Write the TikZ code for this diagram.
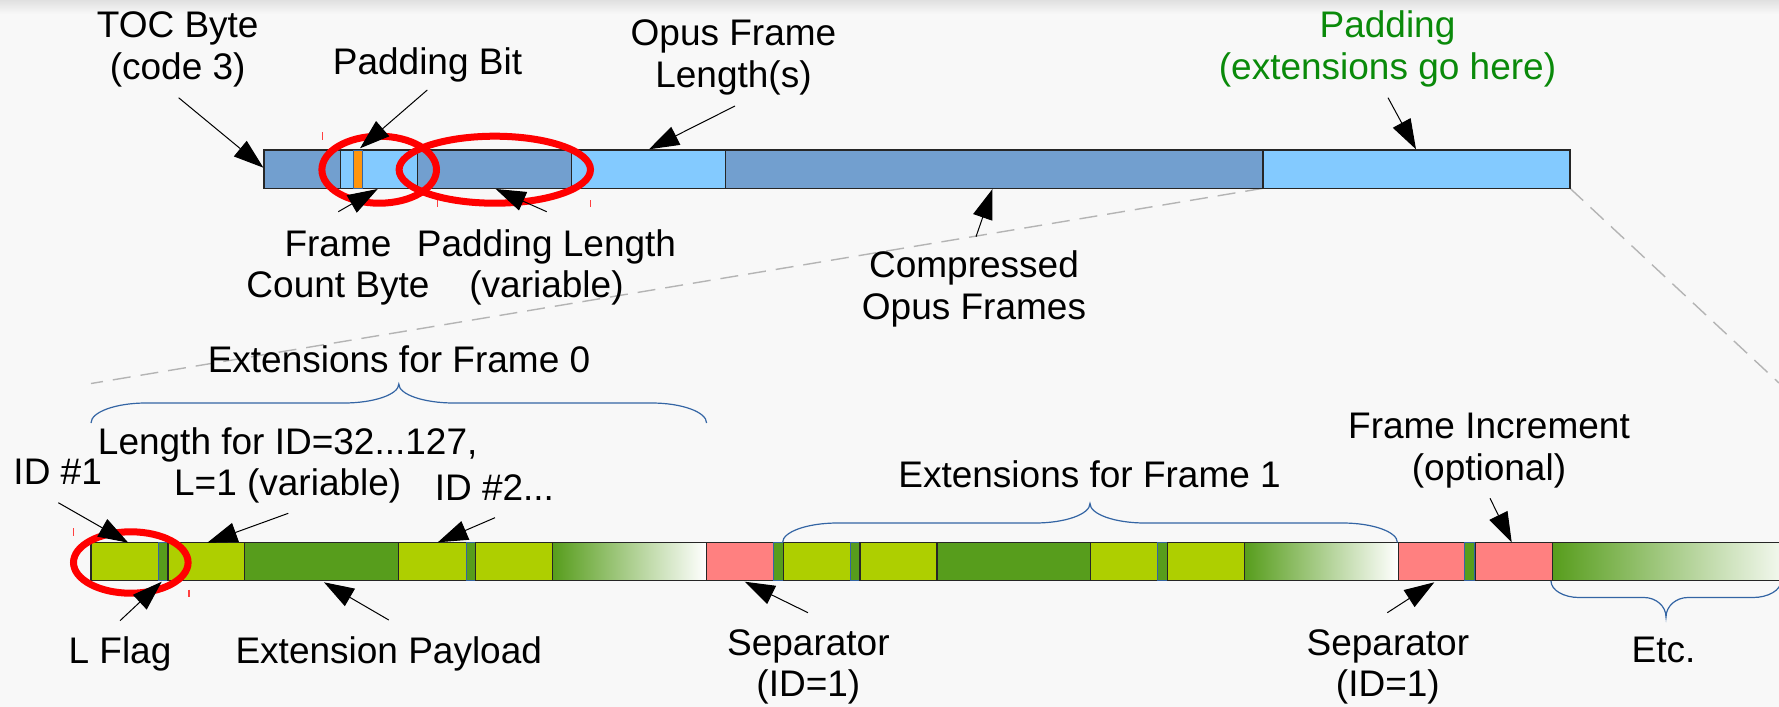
\documentclass[tikz,border=0pt]{standalone}
\usepackage{fontspec}
\setmainfont{Liberation Sans}
\usetikzlibrary{arrows.meta}
\definecolor{bgc}{HTML}{F8F8F8}
\definecolor{dblue}{HTML}{729FCF}
\definecolor{lblue}{HTML}{83CAFF}
\definecolor{orng}{HTML}{FF950E}
\definecolor{ygreen}{HTML}{AECF00}
\definecolor{dgreen}{HTML}{579D1C}
\definecolor{pinkc}{HTML}{FF8080}
\definecolor{braceblue}{HTML}{3465A4}
\definecolor{txtgreen}{HTML}{0A8A0A}
\definecolor{zoomgray}{HTML}{B4B4B4}
\newcommand\lblfont{\fontsize{18.5pt}{20.75pt}\selectfont}
\newcommand\bracecurve[7]{% x0 x1 ye yh yc cornerw cuspw
  (#1,#3) .. controls (#1,{#3+0.55*(#4-#3)}) and ({#1+0.45*#6},#4) .. ({#1+#6},#4)
  -- ({(#1+#2)/2-#7},#4) .. controls ({(#1+#2)/2-0.45*#7},#4) and ({(#1+#2)/2},{#5+0.55*(#4-#5)}) .. ({(#1+#2)/2},#5)
  .. controls ({(#1+#2)/2},{#5+0.55*(#4-#5)}) and ({(#1+#2)/2+0.45*#7},#4) .. ({(#1+#2)/2+#7},#4)
  -- ({#2-#6},#4) .. controls ({#2-0.45*#6},#4) and (#2,{#3+0.55*(#4-#3)}) .. (#2,#3)}
\begin{document}
\begin{tikzpicture}[x=0.5pt,y=-0.5pt,
  lbl/.style={font=\lblfont, align=center, inner sep=0pt, anchor=base, text=black},
  ptr/.style={-{Triangle[length=15pt,width=10pt]}, line width=0.5pt, draw=black},
  blk/.style={draw=black!85, line width=0.6pt},
  strip/.style={draw=braceblue, line width=0.5pt},
  brc/.style={draw=braceblue, line width=0.6pt},
  ring/.style={draw=red, line width=3.5pt},
  tickm/.style={draw=red!75, line width=0.6pt},
  zoomline/.style={draw=zoomgray, line width=0.7pt, dash pattern=on 9pt off 5pt}]
\clip (0,0) rectangle (1779,707);
\fill[bgc] (0,0) rectangle (1779,707);
\shade[top color=black!12, bottom color=bgc] (0,0) rectangle (1779,14);

% zoom lines
\coordinate (padBL) at (1263,188.3);
\coordinate (padBR) at (1570,188.3);
\coordinate (lowL) at (91,383.5);
\coordinate (lowR) at (1779,383);
\draw[zoomline] (padBL) -- (lowL);
\draw[zoomline] (padBR) -- (lowR);

% ---------- top bar ----------
\draw[blk, fill=dblue] (264,150) rectangle (340.7,188.3);
\draw[blk, fill=lblue] (340.7,150) rectangle (417.7,188.3);
\draw[strip, fill=orng] (353.3,150) rectangle (362.3,188.3);
\draw[blk, fill=dblue] (417.7,150) rectangle (571.7,188.3);
\draw[blk, fill=lblue] (571.7,150) rectangle (725.5,188.3);
\draw[blk, fill=dblue] (725.5,150) rectangle (1263,188.3);
\draw[blk, fill=lblue] (1263,150) rectangle (1570,188.3);

% ---------- lower bar ----------
\def\ya{542.5}\def\yb{580.7}
\draw[blk, fill=ygreen] (91,\ya) rectangle (167.9,\yb);
\draw[strip, fill=dgreen] (158.2,\ya) rectangle (167.9,\yb);
\draw[blk, fill=ygreen] (167.9,\ya) rectangle (244.8,\yb);
\draw[blk, fill=dgreen] (244.8,\ya) rectangle (398.6,\yb);
\draw[blk, fill=ygreen] (398.6,\ya) rectangle (475.5,\yb);
\draw[strip, fill=dgreen] (466,\ya) rectangle (475.5,\yb);
\draw[blk, fill=ygreen] (475.5,\ya) rectangle (552.4,\yb);
\shadedraw[blk, left color=dgreen, right color=white] (552.4,\ya) rectangle (706.2,\yb);
\draw[blk, fill=pinkc] (706.2,\ya) rectangle (783.1,\yb);
\draw[strip, fill=dgreen] (773.6,\ya) rectangle (783.1,\yb);
\draw[blk, fill=ygreen] (783.1,\ya) rectangle (860,\yb);
\draw[strip, fill=dgreen] (850.3,\ya) rectangle (860,\yb);
\draw[blk, fill=ygreen] (860,\ya) rectangle (936.9,\yb);
\draw[blk, fill=dgreen] (936.9,\ya) rectangle (1090.7,\yb);
\draw[blk, fill=ygreen] (1090.7,\ya) rectangle (1167.6,\yb);
\draw[strip, fill=dgreen] (1157.9,\ya) rectangle (1167.6,\yb);
\draw[blk, fill=ygreen] (1167.6,\ya) rectangle (1244.5,\yb);
\shadedraw[blk, left color=dgreen, right color=white] (1244.5,\ya) rectangle (1398.3,\yb);
\draw[blk, fill=pinkc] (1398.3,\ya) rectangle (1475.2,\yb);
\draw[strip, fill=dgreen] (1464.6,\ya) rectangle (1474.6,\yb);
\draw[blk, fill=pinkc] (1475.2,\ya) rectangle (1552.1,\yb);
\shadedraw[blk, left color=dgreen, right color=white] (1552.1,\ya) rectangle (1800,\yb);

% ---------- braces ----------
\draw[brc] \bracecurve{91}{706.6}{423}{403}{384}{55}{55};
\draw[brc] \bracecurve{782.6}{1397.4}{542.5}{523}{503.5}{55}{55};
\draw[brc] \bracecurve{1551}{1781}{581}{597.5}{617}{28}{22};

% ---------- selection ticks ----------
\draw[tickm] (322.3,132) -- (322.3,140);
\draw[tickm] (437.7,200) -- (437.7,207.3);
\draw[tickm] (590.7,200) -- (590.7,207.3);
\draw[tickm] (73.3,528) -- (73.3,535.5);
\draw[tickm] (189,589.5) -- (189,597);

% ---------- red rings ----------
\draw[ring] (379.2,169.7) ellipse [x radius=28.65pt, y radius=16.75pt];
\draw[ring] (494.8,169.7) ellipse [x radius=47.85pt, y radius=16.75pt];
\draw[ring] (130.8,562.5) ellipse [x radius=28.65pt, y radius=15.35pt];

% ---------- labels (anchor at baseline of last line) ----------
\node[lbl] (toc) at (177.7,79) {TOC Byte\\(code 3)};
\node[lbl] (padbit) at (427.5,74) {Padding Bit};
\node[lbl] (opuslen) at (733.5,87.3) {Opus Frame\\Length(s)};
\node[lbl, text=txtgreen] (padding) at (1387.5,79) {Padding\\(extensions go here)};
\node[lbl] (fcb) at (338,297.7) {Frame\\Count Byte};
\node[lbl] (padlen) at (546.5,297.7) {Padding Length\\(variable)};
\node[lbl] (comp) at (974,319.3) {Compressed\\Opus Frames};

\node[lbl] (ext0) at (399,372.3) {Extensions for Frame 0};
\node[lbl] (lenid) at (287.7,495.7) {Length for ID=32...127,\\L=1 (variable)};
\node[lbl] (id1) at (57.7,484) {ID \#1};
\node[lbl] (id2) at (494.4,500) {ID \#2...};
\node[lbl] (ext1) at (1089.6,487.7) {Extensions for Frame 1};
\node[lbl] (frinc) at (1489,480) {Frame Increment\\(optional)};
\node[lbl] (lflag) at (120,663) {L Flag};
\node[lbl] (payload) at (388.8,663) {Extension Payload};
\node[lbl] (sep1) at (808.4,696.7) {Separator\\(ID=1)};
\node[lbl] (sep2) at (1387.9,696.7) {Separator\\(ID=1)};
\node[lbl] (etc) at (1663.5,662.7) {Etc.};

% ---------- pointers ----------
\coordinate (toc-t) at (178.6,97.7);   \coordinate (toc-h) at (263.4,167.7);
\coordinate (padbit-t) at (427.3,90);  \coordinate (padbit-h) at (360,148.3);
\coordinate (opuslen-t) at (735,106);  \coordinate (opuslen-h) at (649,149.3);
\coordinate (padding-t) at (1388,97.7); \coordinate (padding-h) at (1416,149.3);
\coordinate (fcb-t) at (338.3,211.7);  \coordinate (fcb-h) at (377.7,189);
\coordinate (padlen-t) at (546.7,211.7); \coordinate (padlen-h) at (495.7,189);
\coordinate (comp-t) at (976,236.7);   \coordinate (comp-h) at (992.5,189);
\coordinate (id1-t) at (58.3,502.7);   \coordinate (id1-h) at (128.3,542.7);
\coordinate (lenid-t) at (288.3,513.3); \coordinate (lenid-h) at (207.3,542.7);
\coordinate (id2-t) at (495,517.7);    \coordinate (id2-h) at (437.8,542.3);
\coordinate (lflag-t) at (120,620.7);  \coordinate (lflag-h) at (161.7,581.7);
\coordinate (payload-t) at (388.8,620); \coordinate (payload-h) at (324,582.3);
\coordinate (sep1-t) at (808,612.7);   \coordinate (sep1-h) at (744.7,581.7);
\coordinate (sep2-t) at (1387.3,612.7); \coordinate (sep2-h) at (1434.3,582.3);
\coordinate (frinc-t) at (1490,498.3); \coordinate (frinc-h) at (1511.7,542.3);
\foreach \n in {toc,padbit,opuslen,padding,fcb,padlen,comp,id1,lenid,id2,lflag,payload,sep1,sep2,frinc}
  \draw[ptr] (\n-t) -- (\n-h);
\end{tikzpicture}
\end{document}
